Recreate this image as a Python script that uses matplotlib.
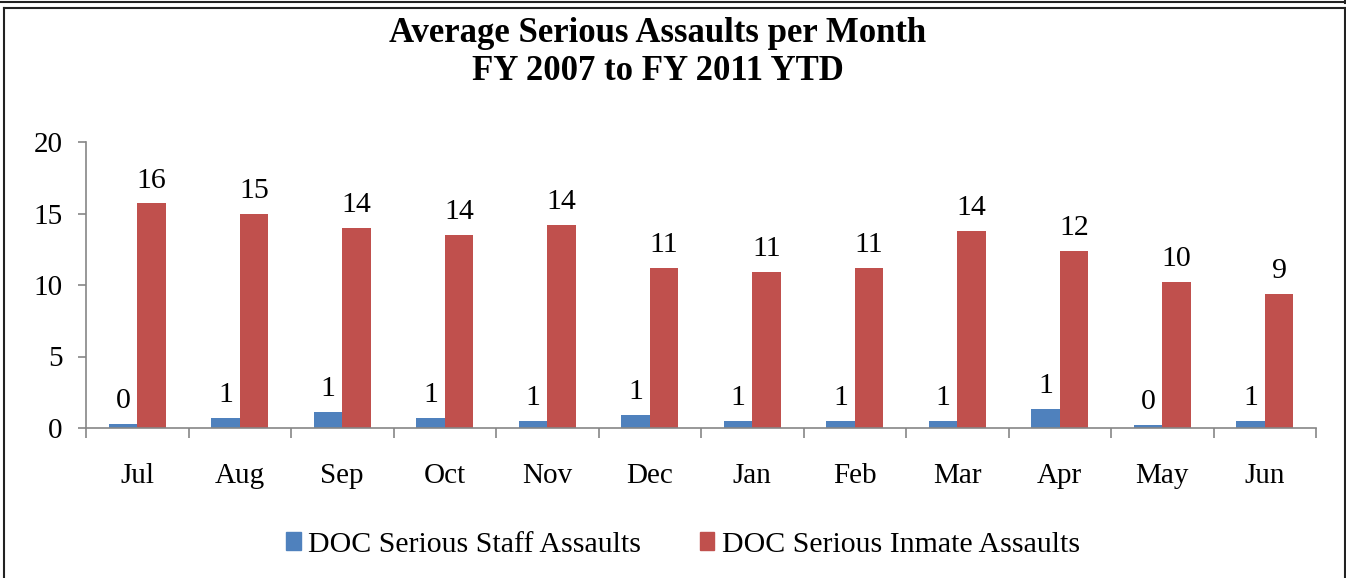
import numpy as np
import matplotlib
matplotlib.use("Agg")
import matplotlib.pyplot as plt
from matplotlib.lines import Line2D
from matplotlib.patches import Patch

months = ["Jul", "Aug", "Sep", "Oct", "Nov", "Dec", "Jan", "Feb", "Mar", "Apr", "May", "Jun"]
staff = [0.3, 0.7, 1.1, 0.7, 0.5, 0.9, 0.5, 0.5, 0.5, 1.3, 0.2, 0.5]
inmate = [15.7, 15.0, 14.0, 13.5, 14.2, 11.2, 10.9, 11.2, 13.8, 12.4, 10.2, 9.4]
series_names = ["DOC Serious Staff Assaults", "DOC Serious Inmate Assaults"]

BLUE = "#4F81BD"
RED = "#C0504D"
GRAY = "#868686"
SERIF = ["Liberation Serif", "DejaVu Serif"]

plt.rcParams["font.family"] = SERIF

W, H = 1346, 578
fig = plt.figure(figsize=(W / 100, H / 100), dpi=100)
ax = fig.add_axes([86 / W, 1 - 428 / H, (1316 - 86) / W, (428 - 142) / H])

x = np.arange(len(months))
bw = 0.28
b1 = ax.bar(x - 0.14, staff, bw, color=BLUE, zorder=2)
b2 = ax.bar(x + 0.14, inmate, bw, color=RED, zorder=2)

# data labels, rounded half-up like Excel
for bars, vals in ((b1, staff), (b2, inmate)):
    for r, v in zip(bars, vals):
        ax.annotate(f"{int(v + 0.5)}", (r.get_x() + r.get_width() / 2, v),
                    xytext=(0, 11.5), textcoords="offset points",
                    ha="center", va="baseline", fontsize=21.5)

ax.set_xlim(-0.5, len(months) - 0.5)
ax.set_ylim(0, 20)
ax.set_yticks(range(0, 21, 5))
ax.set_xticks(x)
ax.set_xticklabels(months)
ax.set_xticks(np.arange(-0.5, len(months), 1), minor=True)
ax.tick_params(axis="x", which="major", length=0, pad=25, labelsize=21)
ax.tick_params(axis="x", which="minor", length=7.2, width=1.2, color=GRAY, direction="out")
ax.tick_params(axis="y", length=5.8, width=1.2, color=GRAY, pad=11, labelsize=21)

for s in ("top", "right"):
    ax.spines[s].set_visible(False)
for s in ("left", "bottom"):
    ax.spines[s].set_color(GRAY)
    ax.spines[s].set_linewidth(1.2)

fig.text(658 / W, 1 - 33 / H, "Average Serious Assaults per Month", ha="center", va="center",
         fontsize=25, fontweight="bold")
fig.text(658 / W, 1 - 72 / H, "FY 2007 to FY 2011 YTD", ha="center", va="center",
         fontsize=25, fontweight="bold")

handles = [Patch(color=BLUE), Patch(color=RED)]
fig.legend(handles, series_names, loc="center", bbox_to_anchor=(683 / W, 1 - 545 / H),
           ncol=2, frameon=False, prop={"family": SERIF, "size": 21.5},
           handlelength=0.5, handleheight=0.55, handletextpad=0.25, columnspacing=1.95)

# outer frame lines
lw = 1.5
fig.add_artist(Line2D([0, 1], [1 - 1.5 / H] * 2, color="#222222", lw=lw))
fig.add_artist(Line2D([1345 / W] * 2, [1, 1 - 3 / H], color="#222222", lw=lw))
fig.add_artist(Line2D([4 / W, 1345 / W], [1 - 8 / H] * 2, color="#222222", lw=lw))
fig.add_artist(Line2D([4 / W] * 2, [1 - 8 / H, 0], color="#222222", lw=lw))
fig.add_artist(Line2D([1345 / W] * 2, [1 - 8 / H, 0], color="#222222", lw=lw))

fig.savefig("out.png", dpi=100)
